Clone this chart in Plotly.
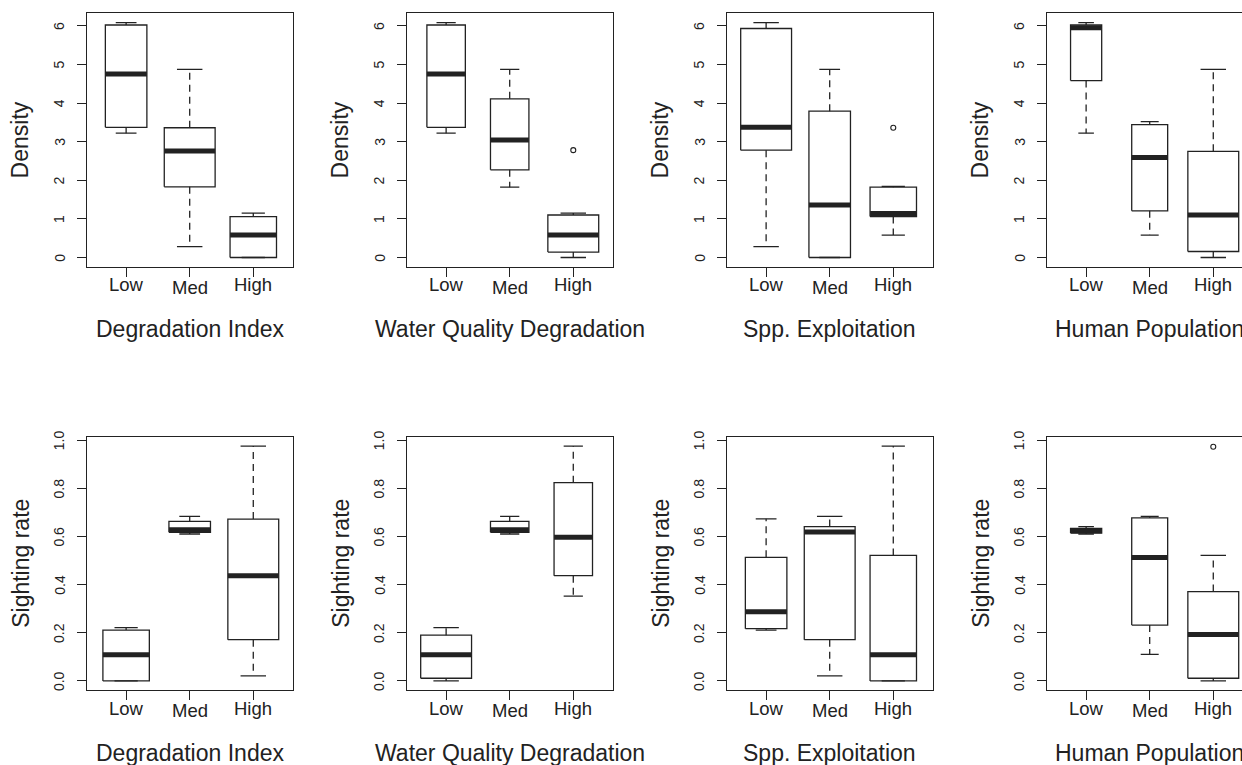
import math
import plotly.graph_objects as go

W, H = 1242, 765

groups = ["Low", "Med", "High"]
factor_titles = ["Degradation Index", "Water Quality Degradation", "Spp. Exploitation", "Human Population"]
response_titles = ["Density", "Sighting rate"]

# five-number summaries [lower whisker, Q1, median, Q3, upper whisker] for Low, Med, High
density_degradation = [[3.22, 3.37, 4.75, 6.02, 6.08], [0.28, 1.83, 2.76, 3.36, 4.87], [0.00, 0.00, 0.58, 1.06, 1.15]]
density_water = [[3.22, 3.37, 4.75, 6.02, 6.08], [1.82, 2.27, 3.04, 4.11, 4.87], [0.00, 0.14, 0.58, 1.10, 1.15]]
density_spp = [[0.28, 2.78, 3.37, 5.93, 6.08], [0.00, 0.00, 1.36, 3.79, 4.87], [0.58, 1.06, 1.14, 1.82, 1.84]]
density_human = [[3.22, 4.58, 5.95, 6.02, 6.08], [0.58, 1.21, 2.59, 3.44, 3.52], [0.00, 0.155, 1.10, 2.75, 4.87]]
sighting_degradation = [[0.0, 0.0, 0.109, 0.211, 0.221], [0.610, 0.617, 0.628, 0.662, 0.683], [0.021, 0.171, 0.437, 0.672, 0.975]]
sighting_water = [[0.0, 0.011, 0.109, 0.190, 0.221], [0.610, 0.617, 0.628, 0.662, 0.683], [0.352, 0.437, 0.597, 0.823, 0.975]]
sighting_spp = [[0.211, 0.217, 0.287, 0.513, 0.673], [0.021, 0.171, 0.618, 0.641, 0.683], [0.0, 0.0, 0.109, 0.521, 0.975]]
sighting_human = [[0.610, 0.614, 0.623, 0.633, 0.641], [0.110, 0.232, 0.512, 0.677, 0.683], [0.0, 0.011, 0.193, 0.371, 0.521]]

# group sizes (box widths proportional to sqrt(n))
n_density_degradation = [4, 6, 5]
n_density_water = [4, 4, 7]
n_density_spp = [6, 4, 5]
n_density_human = [3, 4, 8]
n_sighting_degradation = [5, 4, 6]
n_sighting_water = [7, 4, 4]
n_sighting_spp = [4, 6, 5]
n_sighting_human = [3, 4, 8]

# outliers per group
out_density_degradation = [[], [], []]
out_density_water = [[], [], [2.78]]
out_density_spp = [[], [], [3.36]]
out_density_human = [[], [], []]
out_sighting_degradation = [[], [], []]
out_sighting_water = [[], [], []]
out_sighting_spp = [[], [], []]
out_sighting_human = [[], [], [0.972]]

density_ticks = [0, 1, 2, 3, 4, 5, 6]
density_tick_labels = ["0", "1", "2", "3", "4", "5", "6"]
sighting_ticks = [0.0, 0.2, 0.4, 0.6, 0.8, 1.0]
sighting_tick_labels = ["0.0", "0.2", "0.4", "0.6", "0.8", "1.0"]

rows = [
    dict(title="Density", ticks=density_ticks, labels=density_tick_labels,
         stats=[density_degradation, density_water, density_spp, density_human],
         ns=[n_density_degradation, n_density_water, n_density_spp, n_density_human],
         outs=[out_density_degradation, out_density_water, out_density_spp, out_density_human]),
    dict(title="Sighting rate", ticks=sighting_ticks, labels=sighting_tick_labels,
         stats=[sighting_degradation, sighting_water, sighting_spp, sighting_human],
         ns=[n_sighting_degradation, n_sighting_water, n_sighting_spp, n_sighting_human],
         outs=[out_sighting_degradation, out_sighting_water, out_sighting_spp, out_sighting_human]),
]

# ---- layout geometry (pixels) ----
col_left = [86.7, 406.7, 726.7, 1046.7]
frame_w = 206.0
row_top = [13.3, 436.7]
frame_h = 253.6
x_full = (0.38, 3.62)

INK = "#222222"
FONT = "Liberation Sans, Arial, Helvetica, sans-serif"
LW = 1.3
TITLE_SIZE = 23
CAT_SIZE = 18.5
TICK_SIZE = 14

fig = go.Figure()
layout = dict(width=W, height=H, margin=dict(l=0, r=0, t=0, b=0),
              paper_bgcolor="white", plot_bgcolor="white", showlegend=False,
              font=dict(family=FONT, color=INK))
annotations = []

for r, row in enumerate(rows):
    allv = [v for st in row["stats"] for g in st for v in g] + \
           [v for ot in row["outs"] for g in ot for v in g]
    lo, hi = min(allv), max(allv)
    pad = 0.04 * (hi - lo)
    yr = [lo - pad, hi + pad]
    for c in range(4):
        p = r * 4 + c + 1
        sx = "" if p == 1 else str(p)
        xa, ya = "x" + sx, "y" + sx
        left = col_left[c]
        right = min(left + frame_w, W)
        vis = (right - left) / frame_w
        xr = [x_full[0], x_full[0] + (x_full[1] - x_full[0]) * vis]
        top = row_top[r]
        bot = top + frame_h
        layout["xaxis" + sx] = dict(domain=[left / W, right / W], range=xr, anchor=ya,
                                    showgrid=False, zeroline=False, showline=True, mirror=True,
                                    linecolor=INK, linewidth=LW, ticks="outside", ticklen=9,
                                    tickwidth=LW, tickcolor=INK, tickvals=[1, 2, 3],
                                    showticklabels=False, fixedrange=True)
        layout["yaxis" + sx] = dict(domain=[1 - bot / H, 1 - top / H], range=yr, anchor=xa,
                                    showgrid=False, zeroline=False, showline=True,
                                    mirror=(c < 3), linecolor=INK, linewidth=LW,
                                    ticks="outside", ticklen=9, tickwidth=LW, tickcolor=INK,
                                    tickvals=row["ticks"], showticklabels=False, fixedrange=True)
        stats = row["stats"][c]
        ns = row["ns"][c]
        outs = row["outs"][c]
        nmax = max(ns)
        bx, by, mx, my, wx, wy, cx, cy, ox, oy = [], [], [], [], [], [], [], [], [], []
        for i, (st, n, ot) in enumerate(zip(stats, ns, outs)):
            ctr = i + 1
            w = 0.8 * math.sqrt(n / nmax)
            lw_, q1, med, q3, uw = st
            x0, x1 = ctr - w / 2, ctr + w / 2
            bx += [x0, x1, x1, x0, x0, None]
            by += [q1, q1, q3, q3, q1, None]
            mx += [x0, x1, None]
            my += [med, med, None]
            wx += [ctr, ctr, None, ctr, ctr, None]
            wy += [q3, uw, None, q1, lw_, None]
            cx += [ctr - w / 4, ctr + w / 4, None, ctr - w / 4, ctr + w / 4, None]
            cy += [uw, uw, None, lw_, lw_, None]
            for v in ot:
                ox.append(ctr)
                oy.append(v)
        fig.add_trace(go.Scatter(x=wx, y=wy, xaxis=xa, yaxis=ya, mode="lines",
                                 line=dict(color=INK, width=LW, dash="7px,5px"), hoverinfo="skip"))
        fig.add_trace(go.Scatter(x=cx, y=cy, xaxis=xa, yaxis=ya, mode="lines",
                                 line=dict(color=INK, width=LW), hoverinfo="skip"))
        fig.add_trace(go.Scatter(x=bx, y=by, xaxis=xa, yaxis=ya, mode="lines",
                                 line=dict(color=INK, width=LW), hoverinfo="skip"))
        fig.add_trace(go.Scatter(x=mx, y=my, xaxis=xa, yaxis=ya, mode="lines",
                                 line=dict(color=INK, width=5), hoverinfo="skip"))
        if ox:
            fig.add_trace(go.Scatter(x=ox, y=oy, xaxis=xa, yaxis=ya, mode="markers",
                                     marker=dict(symbol="circle-open", size=5, color=INK,
                                                 line=dict(width=1.1, color=INK)),
                                     hoverinfo="skip"))
        # x category labels (Med sits slightly lower, as in the original)
        for i, g in enumerate(groups):
            annotations.append(dict(text=g, xref=xa, x=i + 1, yref=ya + " domain", y=0,
                                    yanchor="top", xanchor="center",
                                    yshift=-7.9 if g == "Med" else -5.6,
                                    showarrow=False, font=dict(size=CAT_SIZE, family=FONT, color=INK)))
        # y tick labels, rotated
        for tv, tl in zip(row["ticks"], row["labels"]):
            annotations.append(dict(text=tl, xref=xa + " domain", x=0, xshift=-27.5,
                                    yref=ya, y=tv, xanchor="center", yanchor="middle",
                                    textangle=-90, showarrow=False,
                                    font=dict(size=TICK_SIZE, family=FONT, color=INK)))
        # y title
        annotations.append(dict(text=row["title"], xref=xa + " domain", x=0, xshift=-66.4,
                                yref=ya + " domain", y=0.5, xanchor="center", yanchor="middle",
                                textangle=-90, showarrow=False,
                                font=dict(size=TITLE_SIZE, family=FONT, color=INK)))
        # x title (centred on the full frame, may run off the right edge)
        annotations.append(dict(text=factor_titles[c], xref="paper", x=(left + frame_w / 2) / W,
                                yref=ya + " domain", y=0, yanchor="top", xanchor="center",
                                yshift=-47.2, showarrow=False,
                                font=dict(size=TITLE_SIZE, family=FONT, color=INK)))

layout["annotations"] = annotations
fig.update_layout(**layout)
fig.write_html("out.html", config={"displayModeBar": False},
               post_script="document.body.style.margin='0';document.body.style.overflow='hidden';")
